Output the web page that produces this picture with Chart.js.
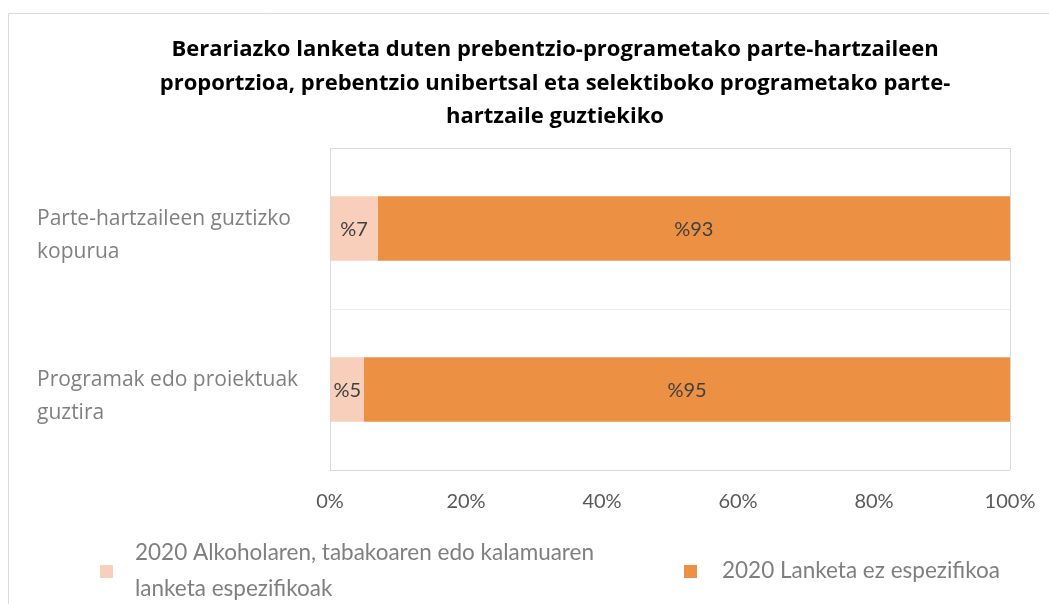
<!DOCTYPE html>
<html>
<head>
<meta charset="utf-8">
<script src="https://cdn.jsdelivr.net/npm/chart.js@4/dist/chart.umd.min.js"></script>
<style>
  html, body { margin: 0; padding: 0; background: #ffffff; }
  #wrap { width: 1049px; height: 604px; position: relative; }
</style>
</head>
<body>
<div id="wrap"><canvas id="c" width="1049" height="604"></canvas></div>
<script>
const categories = [
  ["Parte-hartzaileen guztizko", "kopurua"],
  ["Programak edo proiektuak", "guztira"]
];
const seriesNames = [
  "2020 Alkoholaren, tabakoaren edo kalamuaren lanketa espezifikoak",
  "2020 Lanketa ez espezifikoa"
];
const legendLines = [
  ["2020 Alkoholaren, tabakoaren edo kalamuaren", "lanketa espezifikoak"],
  ["2020 Lanketa ez espezifikoa"]
];
const specificValues = [7, 5];
const nonSpecificValues = [93, 95];
const xTicks = [0, 20, 40, 60, 80, 100];
const titleLines = [
  "Berariazko lanketa duten prebentzio-programetako parte-hartzaileen",
  "proportzioa, prebentzio unibertsal eta selektiboko programetako parte-",
  "hartzaile guztiekiko"
];

const colors = ["#F8CFBA", "#EC9044"];

const frame = {
  id: 'frame',
  beforeDraw(chart) {
    const ctx = chart.ctx;
    ctx.save();
    ctx.fillStyle = '#ffffff';
    ctx.fillRect(0, 0, chart.width, chart.height);
    ctx.strokeStyle = '#D9D9D9';
    ctx.lineWidth = 1;
    ctx.beginPath();
    ctx.moveTo(8.5, chart.height);
    ctx.lineTo(8.5, 13.5);
    ctx.lineTo(chart.width, 13.5);
    ctx.stroke();
    ctx.restore();
  }
};

const titleDraw = {
  id: 'titleDraw',
  afterDraw(chart) {
    const ctx = chart.ctx;
    ctx.save();
    ctx.font = 'bold 22px "Open Sans"';
    ctx.fillStyle = '#000000';
    ctx.textAlign = 'center';
    ctx.textBaseline = 'middle';
    titleLines.forEach((ln, i) => ctx.fillText(ln, 555, 50 + i * 33.5));
    ctx.restore();
  }
};

const barLabels = {
  id: 'barLabels',
  afterDatasetsDraw(chart) {
    const ctx = chart.ctx;
    ctx.save();
    ctx.font = '20px Lato';
    ctx.fillStyle = '#404040';
    ctx.textAlign = 'center';
    ctx.textBaseline = 'middle';
    chart.data.datasets.forEach((ds, i) => {
      const meta = chart.getDatasetMeta(i);
      meta.data.forEach((el, j) => {
        const p = el.getProps(['x', 'y', 'base'], true);
        const cx = (p.x + p.base) / 2;
        ctx.fillText('%' + ds.data[j], cx, p.y + 1);
      });
    });
    ctx.restore();
  }
};

const legendPos = [
  { box: 100, text: 135 },
  { box: 684, text: 722 }
];
const customLegend = {
  id: 'customLegend',
  afterDraw(chart) {
    const ctx = chart.ctx;
    ctx.save();
    ctx.font = '22.5px Lato';
    ctx.textBaseline = 'middle';
    ctx.textAlign = 'left';
    const midY = 571;
    const lh = 36;
    chart.data.datasets.forEach((ds, i) => {
      const lines = legendLines[i];
      const pos = legendPos[i];
      ctx.fillStyle = ds.backgroundColor;
      ctx.fillRect(pos.box, midY - 6, 13, 13);
      ctx.fillStyle = '#7F7F7F';
      const startY = midY - (lines.length - 1) * lh / 2;
      lines.forEach((ln, k) => ctx.fillText(ln, pos.text, startY + k * lh));
    });
    ctx.restore();
  }
};

new Chart(document.getElementById('c'), {
  type: 'bar',
  data: {
    labels: categories,
    datasets: [
      { label: seriesNames[0], data: specificValues, backgroundColor: colors[0] },
      { label: seriesNames[1], data: nonSpecificValues, backgroundColor: colors[1] }
    ]
  },
  options: {
    indexAxis: 'y',
    responsive: false,
    animation: false,
    events: [],
    layout: { padding: { left: 37, right: 39, top: 148, bottom: 90 } },
    datasets: { bar: { categoryPercentage: 0.4, barPercentage: 1.0, borderWidth: 0 } },
    scales: {
      x: {
        stacked: true,
        min: 0, max: 100,
        afterBuildTicks(s) { s.ticks = xTicks.map(v => ({ value: v })); },
        afterFit(s) { s.height = 44; s.paddingRight = 0; s.paddingLeft = 0; },
        grid: {
          drawTicks: false,
          color: (c) => (c.tick && (c.tick.value === 0 || c.tick.value === 100)) ? '#D9D9D9' : 'rgba(0,0,0,0)'
        },
        border: { display: false },
        ticks: {
          padding: 20,
          color: '#595959',
          font: { family: 'Lato', size: 20 },
          callback: (v) => v + '%'
        }
      },
      y: {
        stacked: true,
        afterFit(s) { s.width = 293; s.paddingTop = 0; s.paddingBottom = 0; },
        grid: {
          offset: true,
          drawTicks: false,
          color: (c) => c.index === 1 ? '#EDEDED' : '#D9D9D9'
        },
        border: { display: false },
        ticks: {
          crossAlign: 'far',
          padding: 10,
          labelOffset: 7,
          color: '#808080',
          font: { family: 'Open Sans', size: 21, lineHeight: 1.57 }
        }
      }
    },
    plugins: {
      legend: { display: false },
      tooltip: { enabled: false },
      title: { display: false }
    }
  },
  plugins: [frame, barLabels, customLegend, titleDraw]
});
</script>
</body>
</html>
